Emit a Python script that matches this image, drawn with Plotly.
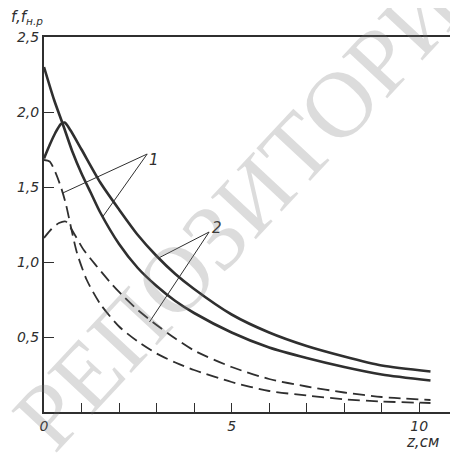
import plotly.graph_objects as go

# ---- data ----
z_s1 = [0, 0.27, 0.5, 0.75, 1.0, 1.25, 1.5, 2.0, 2.5, 3.0, 3.5, 4.0, 5.0, 6.0, 7.0, 8.0, 9.0, 10.3]
f_s1 = [2.30, 2.08, 1.92, 1.74, 1.59, 1.46, 1.33, 1.12, 0.96, 0.84, 0.74, 0.66, 0.53, 0.43, 0.36, 0.30, 0.25, 0.21]

z_s2 = [0, 0.15, 0.3, 0.45, 0.55, 0.7, 1.0, 1.5, 2.0, 2.5, 3.0, 3.5, 4.0, 5.0, 6.0, 7.0, 8.0, 9.0, 10.3]
f_s2 = [1.69, 1.78, 1.86, 1.92, 1.93, 1.88, 1.75, 1.53, 1.35, 1.18, 1.04, 0.92, 0.82, 0.65, 0.53, 0.44, 0.37, 0.31, 0.27]

z_d1 = [0, 0.15, 0.3, 0.45, 0.58, 0.72, 0.88, 1.14, 1.5, 2.0, 2.5, 3.0, 3.5, 4.0, 5.0, 6.0, 7.0, 8.0, 9.0, 10.3]
f_d1 = [1.68, 1.67, 1.60, 1.50, 1.39, 1.23, 1.06, 0.88, 0.72, 0.57, 0.47, 0.39, 0.33, 0.28, 0.20, 0.14, 0.11, 0.085, 0.07, 0.06]

z_d2 = [0, 0.2, 0.4, 0.58, 0.8, 1.06, 1.41, 1.78, 2.12, 2.5, 3.0, 3.5, 4.0, 5.0, 6.0, 7.0, 8.0, 9.0, 10.3]
f_d2 = [1.16, 1.22, 1.26, 1.27, 1.19, 1.08, 0.97, 0.86, 0.77, 0.68, 0.58, 0.49, 0.41, 0.30, 0.22, 0.17, 0.13, 0.10, 0.08]

y_tickvals = [0.5, 1.0, 1.5, 2.0, 2.5]
y_ticktext = ["0,5", "1,0", "1,5", "2,0", "2,5"]
x_tickvals = [0, 5, 10]
x_ticktext = ["0", "5", "10"]

# leader lines: label position -> curve points (data coords)
label1 = (2.94, 1.68)
label1_targets = [(0.50, 1.46), (1.56, 1.30)]
label1_from = (2.75, 1.72)
label2 = (4.61, 1.23)
label2_targets = [(3.08, 1.03), (2.81, 0.60)]
label2_from = (4.40, 1.20)

ink = "#2f2f2f"
fig = go.Figure()

def curve(z, f, dash, width):
    fig.add_trace(go.Scatter(x=z, y=f, mode="lines",
                             line=dict(color=ink, width=width, dash=dash, shape="spline", smoothing=0.7),
                             showlegend=False, hoverinfo="skip"))

curve(z_s1, f_s1, "solid", 2.6)
curve(z_s2, f_s2, "solid", 2.6)
curve(z_d1, f_d1, "12px,6px", 1.8)
curve(z_d2, f_d2, "12px,6px", 1.8)

for frm, targets in [(label1_from, label1_targets), (label2_from, label2_targets)]:
    for t in targets:
        fig.add_trace(go.Scatter(x=[frm[0], t[0]], y=[frm[1], t[1]], mode="lines",
                                 line=dict(color=ink, width=1), showlegend=False, hoverinfo="skip"))

fig.add_annotation(x=label1[0], y=label1[1], text="<i>1</i>", showarrow=False,
                   font=dict(family="DejaVu Sans", size=15, color=ink))
fig.add_annotation(x=label2[0], y=label2[1], text="<i>2</i>", showarrow=False,
                   font=dict(family="DejaVu Sans", size=15, color=ink))

# axis titles
fig.add_annotation(xref="paper", yref="paper", x=-0.085, y=1.02, xanchor="left", yanchor="bottom",
                   text="<i>f,f<sub>н.р</sub></i>", showarrow=False,
                   font=dict(family="DejaVu Sans", size=15, color=ink))
fig.add_annotation(xref="paper", yref="paper", x=0.97, y=-0.05, xanchor="right", yanchor="top",
                   text="<i>z,см</i>", showarrow=False,
                   font=dict(family="DejaVu Sans", size=15, color=ink))

# watermark
fig.add_annotation(xref="paper", yref="paper", x=0.53, y=0.6, text="РЕПОЗИТОРИЙ",
                   showarrow=False, textangle=-47,
                   font=dict(family="Liberation Serif", size=94, color="rgba(120,120,120,0.26)"))

tick_font = dict(family="DejaVu Sans", size=14, color=ink, style="italic")

fig.update_xaxes(range=[0, 10.9], tickmode="array", tickvals=x_tickvals, ticktext=x_ticktext,
                 ticks="inside", ticklen=9, tickwidth=1, tickcolor=ink,
                 minor=dict(dtick=1, ticks="inside", ticklen=9, tickwidth=1, tickcolor=ink),
                 showgrid=False, zeroline=False, showline=True, linecolor=ink, linewidth=2, mirror=True,
                 tickfont=tick_font)
fig.update_yaxes(range=[0, 2.5], tickmode="array", tickvals=y_tickvals, ticktext=y_ticktext,
                 ticks="inside", ticklen=10, tickwidth=1, tickcolor=ink,
                 showgrid=False, zeroline=False, showline=True, linecolor=ink, linewidth=2, mirror=True,
                 tickfont=tick_font)

fig.update_layout(width=450, height=456, margin=dict(l=36, r=3, t=29, b=52),
                  plot_bgcolor="white", paper_bgcolor="white")

fig.write_html("out.html")
